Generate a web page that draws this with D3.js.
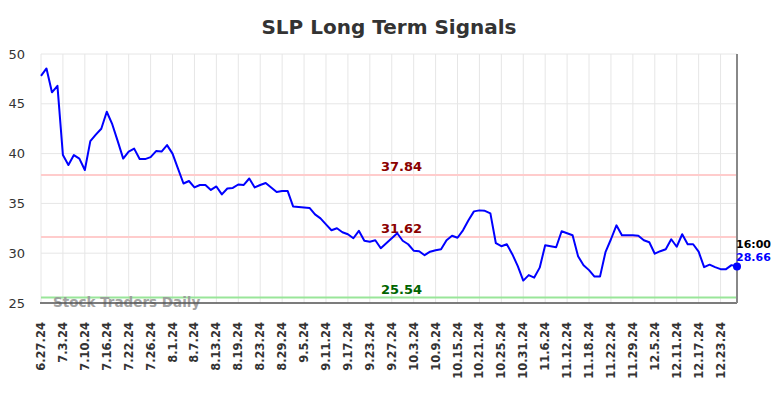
<!DOCTYPE html>
<html>
<head>
<meta charset="utf-8">
<script src="https://cdn.jsdelivr.net/npm/d3@7"></script>
<style>
	body { margin: 0; background: #fff; }
	svg { display: block; font-family: 'DejaVu Sans', sans-serif; }
</style>
</head>
<body>
<div id="chart"></div>
<script>
const TITLE = 'SLP Long Term Signals';

// one label every 4 trading days
const tickLabels = [
	'6.27.24', '7.3.24', '7.10.24', '7.16.24', '7.22.24', '7.26.24', '8.1.24', '8.7.24',
	'8.13.24', '8.19.24', '8.23.24', '8.29.24', '9.5.24', '9.11.24', '9.17.24', '9.23.24',
	'9.27.24', '10.3.24', '10.9.24', '10.15.24', '10.21.24', '10.25.24', '10.31.24', '11.6.24',
	'11.12.24', '11.18.24', '11.22.24', '11.29.24', '12.5.24', '12.11.24', '12.17.24', '12.23.24'
];
const TICK_EVERY = 4;

const prices = [
	47.8, 48.55, 46.15, 46.8, 39.85, 38.85, 39.85, 39.5, 38.35, 41.25,
	41.9, 42.5, 44.2, 42.95, 41.25, 39.5, 40.2, 40.5, 39.45, 39.45,
	39.65, 40.25, 40.2, 40.85, 40.0, 38.5, 37.0, 37.25, 36.6, 36.85,
	36.85, 36.35, 36.7, 35.9, 36.5, 36.55, 36.9, 36.85, 37.5, 36.6,
	36.85, 37.05, 36.6, 36.15, 36.25, 36.25, 34.7, 34.65, 34.6, 34.55,
	33.9, 33.5, 32.9, 32.3, 32.5, 32.1, 31.9, 31.5, 32.25, 31.25,
	31.15, 31.3, 30.5, 31.0, 31.5, 32.0, 31.25, 30.9, 30.25, 30.2,
	29.8, 30.15, 30.3, 30.4, 31.3, 31.75, 31.55, 32.3, 33.3, 34.2,
	34.3, 34.25, 34.0, 31.0, 30.7, 30.9, 29.9, 28.7, 27.25, 27.8,
	27.55, 28.55, 30.8, 30.7, 30.6, 32.2, 32.0, 31.8, 29.7, 28.8,
	28.3, 27.65, 27.65, 30.1, 31.4, 32.8, 31.8, 31.8, 31.8, 31.75,
	31.3, 31.1, 29.95, 30.2, 30.4, 31.4, 30.65, 31.9, 30.9, 30.9,
	30.15, 28.6, 28.85, 28.6, 28.4, 28.4, 28.8, 28.66
];

const signalLevels = [37.84, 31.62, 25.54];
const signalLines = ['#ffcccc', '#ffcccc', '#99e699'];
const signalText = ['#8b0000', '#8b0000', '#006400'];

const yTicks = [25, 30, 35, 40, 45, 50];
const LAST_TIME = '16:00';

const W = 784;
const H = 398;
const margin = { top: 54, right: 47, bottom: 95, left: 41 };
const width = W - margin.left - margin.right;
const height = H - margin.top - margin.bottom;

const $svg = d3.select('#chart').append('svg').attr('width', W).attr('height', H);

$svg.append('text')
	.attr('x', W / 2 - 3)
	.attr('y', 34)
	.attr('text-anchor', 'middle')
	.style('font-size', '20px')
	.style('font-weight', 'bold')
	.style('fill', '#333')
	.text(TITLE);

const $g = $svg.append('g').attr('transform', `translate(${margin.left},${margin.top})`);

const x = d3.scaleLinear().domain([0, prices.length - 1]).range([0, width]);
const y = d3.scaleLinear().domain([25, 50]).range([height, 0]);

// grid
$g.append('g')
	.selectAll('line')
	.data(yTicks)
	.join('line')
	.attr('x1', 0)
	.attr('x2', width)
	.attr('y1', d => y(d))
	.attr('y2', d => y(d))
	.style('stroke', '#e6e6e6');

$g.append('g')
	.selectAll('line')
	.data(tickLabels)
	.join('line')
	.attr('x1', (d, i) => x(i * TICK_EVERY))
	.attr('x2', (d, i) => x(i * TICK_EVERY))
	.attr('y1', 0)
	.attr('y2', height)
	.style('stroke', '#e6e6e6');

// y labels
$g.append('g')
	.selectAll('text')
	.data(yTicks)
	.join('text')
	.attr('x', -16)
	.attr('y', d => y(d))
	.attr('dy', '0.35em')
	.attr('text-anchor', 'end')
	.style('font-size', '13px')
	.style('fill', '#333')
	.text(d => d);

// x labels
$g.append('g')
	.selectAll('text')
	.data(tickLabels)
	.join('text')
	.attr('transform', (d, i) => `translate(${x(i * TICK_EVERY) + 4},${height + 19}) rotate(-90)`)
	.attr('text-anchor', 'end')
	.style('font-size', '11.5px')
	.style('font-weight', 'bold')
	.style('fill', '#333')
	.text(d => d);

// signal levels
$g.append('g')
	.selectAll('line')
	.data(signalLevels)
	.join('line')
	.attr('x1', 0)
	.attr('x2', width)
	.attr('y1', d => y(d))
	.attr('y2', d => y(d))
	.style('stroke', (d, i) => signalLines[i])
	.style('stroke-width', 2);

$g.append('text')
	.attr('x', 12)
	.attr('y', height + 4)
	.style('font-size', '13.5px')
	.style('font-weight', 'bold')
	.style('fill', '#999')
	.style('opacity', 0.9)
	.text('Stock Traders Daily');

$g.append('g')
	.selectAll('text')
	.data(signalLevels)
	.join('text')
	.attr('x', x(65.8))
	.attr('y', d => y(d) - 4)
	.attr('text-anchor', 'middle')
	.style('font-size', '13px')
	.style('font-weight', 'bold')
	.style('fill', (d, i) => signalText[i])
	.text(d => d.toFixed(2));

// axis frame
$g.append('line')
	.attr('x1', -1).attr('x2', width)
	.attr('y1', height).attr('y2', height)
	.style('stroke', '#555').style('stroke-width', 1.5);

$g.append('line')
	.attr('x1', width).attr('x2', width)
	.attr('y1', 0).attr('y2', height)
	.style('stroke', '#888').style('stroke-width', 2);

// price line
const line = d3.line().x((d, i) => x(i)).y(d => y(d));

$g.append('path')
	.datum(prices)
	.attr('d', line)
	.style('fill', 'none')
	.style('stroke', '#0000ff')
	.style('stroke-width', 2)
	.style('stroke-linejoin', 'round');

const last = prices[prices.length - 1];
$g.append('circle')
	.attr('cx', x(prices.length - 1))
	.attr('cy', y(last))
	.attr('r', 4)
	.style('fill', '#0000ff');

$g.append('text')
	.attr('x', width - 1)
	.attr('y', y(last) - 19)
	.style('font-size', '11px')
	.style('font-weight', 'bold')
	.style('fill', '#000')
	.text(LAST_TIME);

$g.append('text')
	.attr('x', width - 1)
	.attr('y', y(last) - 6)
	.style('font-size', '11px')
	.style('font-weight', 'bold')
	.style('fill', '#0000ff')
	.text(last.toFixed(2));
</script>
</body>
</html>
